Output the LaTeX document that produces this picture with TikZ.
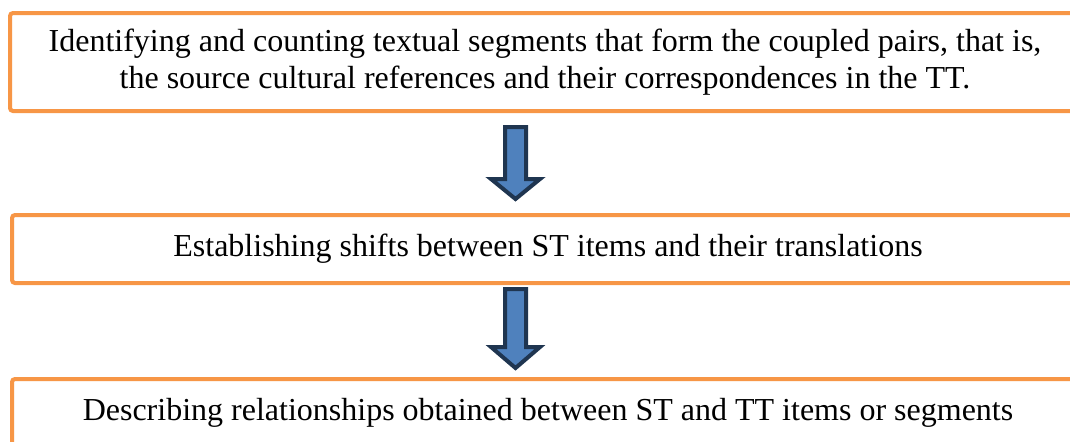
\documentclass[tikz,border=0pt]{standalone}
\usepackage{fontspec}
\setmainfont{Liberation Serif}
\usetikzlibrary{positioning}
\definecolor{boxorange}{HTML}{F79646}
\definecolor{arrowblue}{HTML}{4F81BD}
\definecolor{arrowdark}{HTML}{1F3550}
\tikzset{
stepbox/.style={shape=rectangle, draw=boxorange, line width=2pt, rounded corners=1.5pt, fill=white, align=center, inner sep=0, font=\fontsize{16}{18.5}\selectfont},
blockarrow/.style={draw=arrowdark, fill=arrowblue, line width=2pt, line join=miter}}
\begin{document}
\begin{tikzpicture}[x=0.5pt, y=-0.5pt]
\clip (0,0) rectangle (1070,441);
\node [stepbox, minimum width=535pt, minimum height=49pt] at (545,62) (box1) {Identifying and counting textual segments that form the coupled pairs, that is,\\the source cultural references and their correspondences in the TT.};
\node [stepbox, minimum width=536pt, minimum height=34pt] at (548,249) (box2) {Establishing shifts between ST items and their translations};
\node [stepbox, minimum width=536pt, minimum height=33.5pt] at (548,412.5) (box3) {Describing relationships obtained between ST and TT items or segments};
% block arrows between the steps
\foreach \atop/\aneck/\atip [count=\k] in {127/179/199, 289/347/368}{
  \draw [blockarrow] (505,\atop) -- (526,\atop) -- (526,\aneck) -- (540,\aneck)
    -- (515.5,\atip) -- (491,\aneck) -- (505,\aneck) -- cycle;
}
\end{tikzpicture}
\end{document}
